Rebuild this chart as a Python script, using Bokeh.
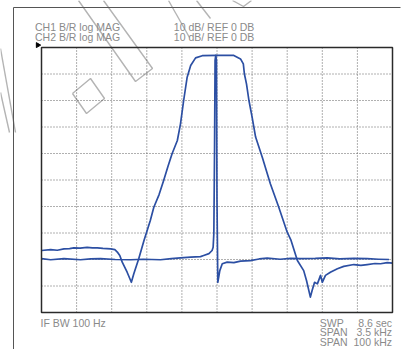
import math
from bokeh.plotting import figure
from bokeh.models import Range1d, Label
from bokeh.embed import file_html
from bokeh.resources import INLINE

# x in screen divisions (0..10), y in dB (10 dB/div, REF 0 dB at top)
ch1_x = [0, 0.26, 0.45, 0.64, 0.8, 0.92, 1.1, 1.3, 1.45, 1.59, 1.75, 1.97, 2.09, 2.16,
         2.23, 2.30, 2.44, 2.56, 2.63, 2.77, 2.92, 3.10, 3.20, 3.35, 3.48, 3.60, 3.72,
         3.87, 3.96, 4.05, 4.15, 4.25, 4.39, 4.58, 5.0, 5.48, 5.67, 5.75, 5.78, 5.84,
         5.91, 6.00, 6.10, 6.29, 6.52, 6.76, 7.00, 7.11, 7.29, 7.47, 7.55, 7.66, 7.71,
         7.78, 7.86, 7.95, 8.00, 8.09, 8.23, 8.43, 8.61, 8.90, 9.10, 9.28, 9.50, 9.66,
         9.85, 10.0]
ch1_db = [-76.6, -76.3, -76.5, -76.0, -75.9, -75.6, -75.7, -75.4, -75.6, -75.6, -75.8,
          -76.0, -76.3, -77.2, -78.5, -81.0, -84.8, -88.6, -85.4, -79.7, -72.8, -65.3,
          -60.3, -55.5, -50.2, -45.0, -40.1, -35.1, -28.8, -20.0, -11.2, -6.8, -3.9,
          -3.1, -3.0, -3.0, -4.3, -6.2, -9.9, -13.7, -20.0, -26.3, -33.8, -41.4, -51.4,
          -60.3, -69.7, -72.8, -80.4, -84.2, -87.9, -94.2, -91.7, -88.6, -89.2, -86.0,
          -88.6, -86.0, -84.8, -83.5, -82.6, -81.9, -82.2, -81.9, -81.5, -81.6, -81.2,
          -81.4]

ch2_x = [0, 0.26, 0.64, 1.11, 1.4, 1.68, 2.1, 2.54, 2.9, 3.39, 3.7, 3.96, 4.25, 4.53,
         4.62, 4.77, 4.86, 4.89, 4.91, 4.93, 4.945, 4.965, 4.985, 5.0, 5.023, 5.08,
         5.15, 5.29, 5.48, 5.67, 5.95, 6.2, 6.43, 6.8, 7.1, 7.38, 7.8, 8.14, 8.5, 8.9,
         9.28, 9.6, 9.9]
ch2_db = [-79.7, -80.1, -79.7, -80.1, -79.8, -79.7, -80.0, -80.1, -79.9, -80.1, -79.7,
          -79.4, -79.1, -78.9, -78.5, -77.8, -76.6, -75.4, -70.2, -38.9, -4.9, -3.0,
          -4.9, -57.7, -88.6, -84.2, -81.6, -81.0, -81.2, -80.6, -80.4, -79.8, -79.5,
          -79.9, -79.6, -79.7, -79.6, -79.4, -79.8, -79.6, -79.7, -79.9, -80.0]

x_grid = [1, 2, 3, 4, 5, 6, 7, 8, 9]
y_grid = [-10, -20, -30, -40, -50, -60, -70, -80, -90]
x_lim = [0, 10]
y_lim = [-100, 0]

header_left = ["CH1 B/R log MAG", "CH2 B/R log MAG"]
header_right = ["10 dB/ REF 0 DB", "10 dB/ REF 0 DB"]
footer_left = "IF BW 100 Hz"
footer_names = ["SWP", "SPAN", "SPAN"]
footer_values = ["8.6 sec", "3.5 kHz", "100 kHz"]

TRACE = "#2c4fa3"
TEXT = "#8a8a8a"
GRID = "#606060"
FRAME = "#2a2a2a"
WM = "#b4b4b4"
FONT = "Liberation Sans"

W, H = 407, 349
# screen layout of the graticule inside the page (pixels)
BOX_L, BOX_R, BOX_T, BOX_B = 41, 392, 47, 312
sx = (BOX_R - BOX_L) / (x_lim[1] - x_lim[0])
sy = (BOX_B - BOX_T) / (y_lim[1] - y_lim[0])

def X(px):
    return x_lim[0] + (px - BOX_L) / sx

def Y(py):
    return y_lim[1] - (py - BOX_T) / sy

p = figure(width=W, height=H, x_range=Range1d(X(0), X(W)), y_range=Range1d(Y(H), Y(0)),
           x_axis_location=None, y_axis_location=None, toolbar_location=None,
           output_backend="svg", min_border=0)
p.outline_line_color = None
p.grid.visible = False
p.background_fill_color = "white"
p.border_fill_color = "white"

# faint background watermark strokes (page decoration)
wm_shapes = [
    [(78, 0), (135, 81), (152, 68), (103, 0)],
    [(72, 93), (90, 78), (104, 98), (86, 113), (72, 93)],
    [(0, 48), (15, 132)],
    [(0, 92), (9, 132)],
    [(168, 0), (189, 37)],
    [(196, 0), (210, 18)],
    [(232, 0), (243, 6), (251, 0)],
]
p.multi_line([[X(a) for a, b in s] for s in wm_shapes],
             [[Y(b) for a, b in s] for s in wm_shapes], line_color=WM, line_width=1.4)

# outer instrument frame (left and top edges)
p.line([X(13), X(13), X(400)], [Y(H + 5), Y(7), Y(7)], line_color="#555555", line_width=1)

# graticule
p.segment(x0=x_grid, y0=[y_lim[0]] * len(x_grid), x1=x_grid, y1=[y_lim[1]] * len(x_grid),
          line_color=GRID, line_width=1, line_dash="1 2")
p.segment(x0=[x_lim[0]] * len(y_grid), y0=y_grid, x1=[x_lim[1]] * len(y_grid), y1=y_grid,
          line_color=GRID, line_width=1, line_dash="1 2")

p.line(ch2_x, ch2_db, line_color=TRACE, line_width=1.7, line_join="round")
p.line(ch1_x, ch1_db, line_color=TRACE, line_width=1.7, line_join="round")

p.quad(left=[x_lim[0]], right=[x_lim[1]], bottom=[y_lim[0]], top=[y_lim[1]],
       fill_alpha=0, line_color=FRAME, line_width=1.5)

# reference level marker
p.scatter([X(37.3)], [y_lim[1] + 0.9], marker="triangle", size=5, angle=-math.pi / 2,
          fill_color="black", line_color="black")

def lab(px, py, t, align="left"):
    p.add_layout(Label(x=X(px), y=Y(py), text=t, text_font=FONT, text_font_size="10.5px",
                       text_color=TEXT, text_align=align, text_baseline="alphabetic"))

for i, t in enumerate(header_left):
    lab(34.5, 26 + 10 * i, t)
for i, t in enumerate(header_right):
    lab(173.3, 26 + 10 * i, t)
lab(40, 322.3, footer_left)
for i, (n, v) in enumerate(zip(footer_names, footer_values)):
    lab(319.3, 322.3 + 9.4 * i, n)
    lab(391.5, 322.3 + 9.4 * i, v, "right")

open("out.html", "w").write(file_html(p, INLINE))
